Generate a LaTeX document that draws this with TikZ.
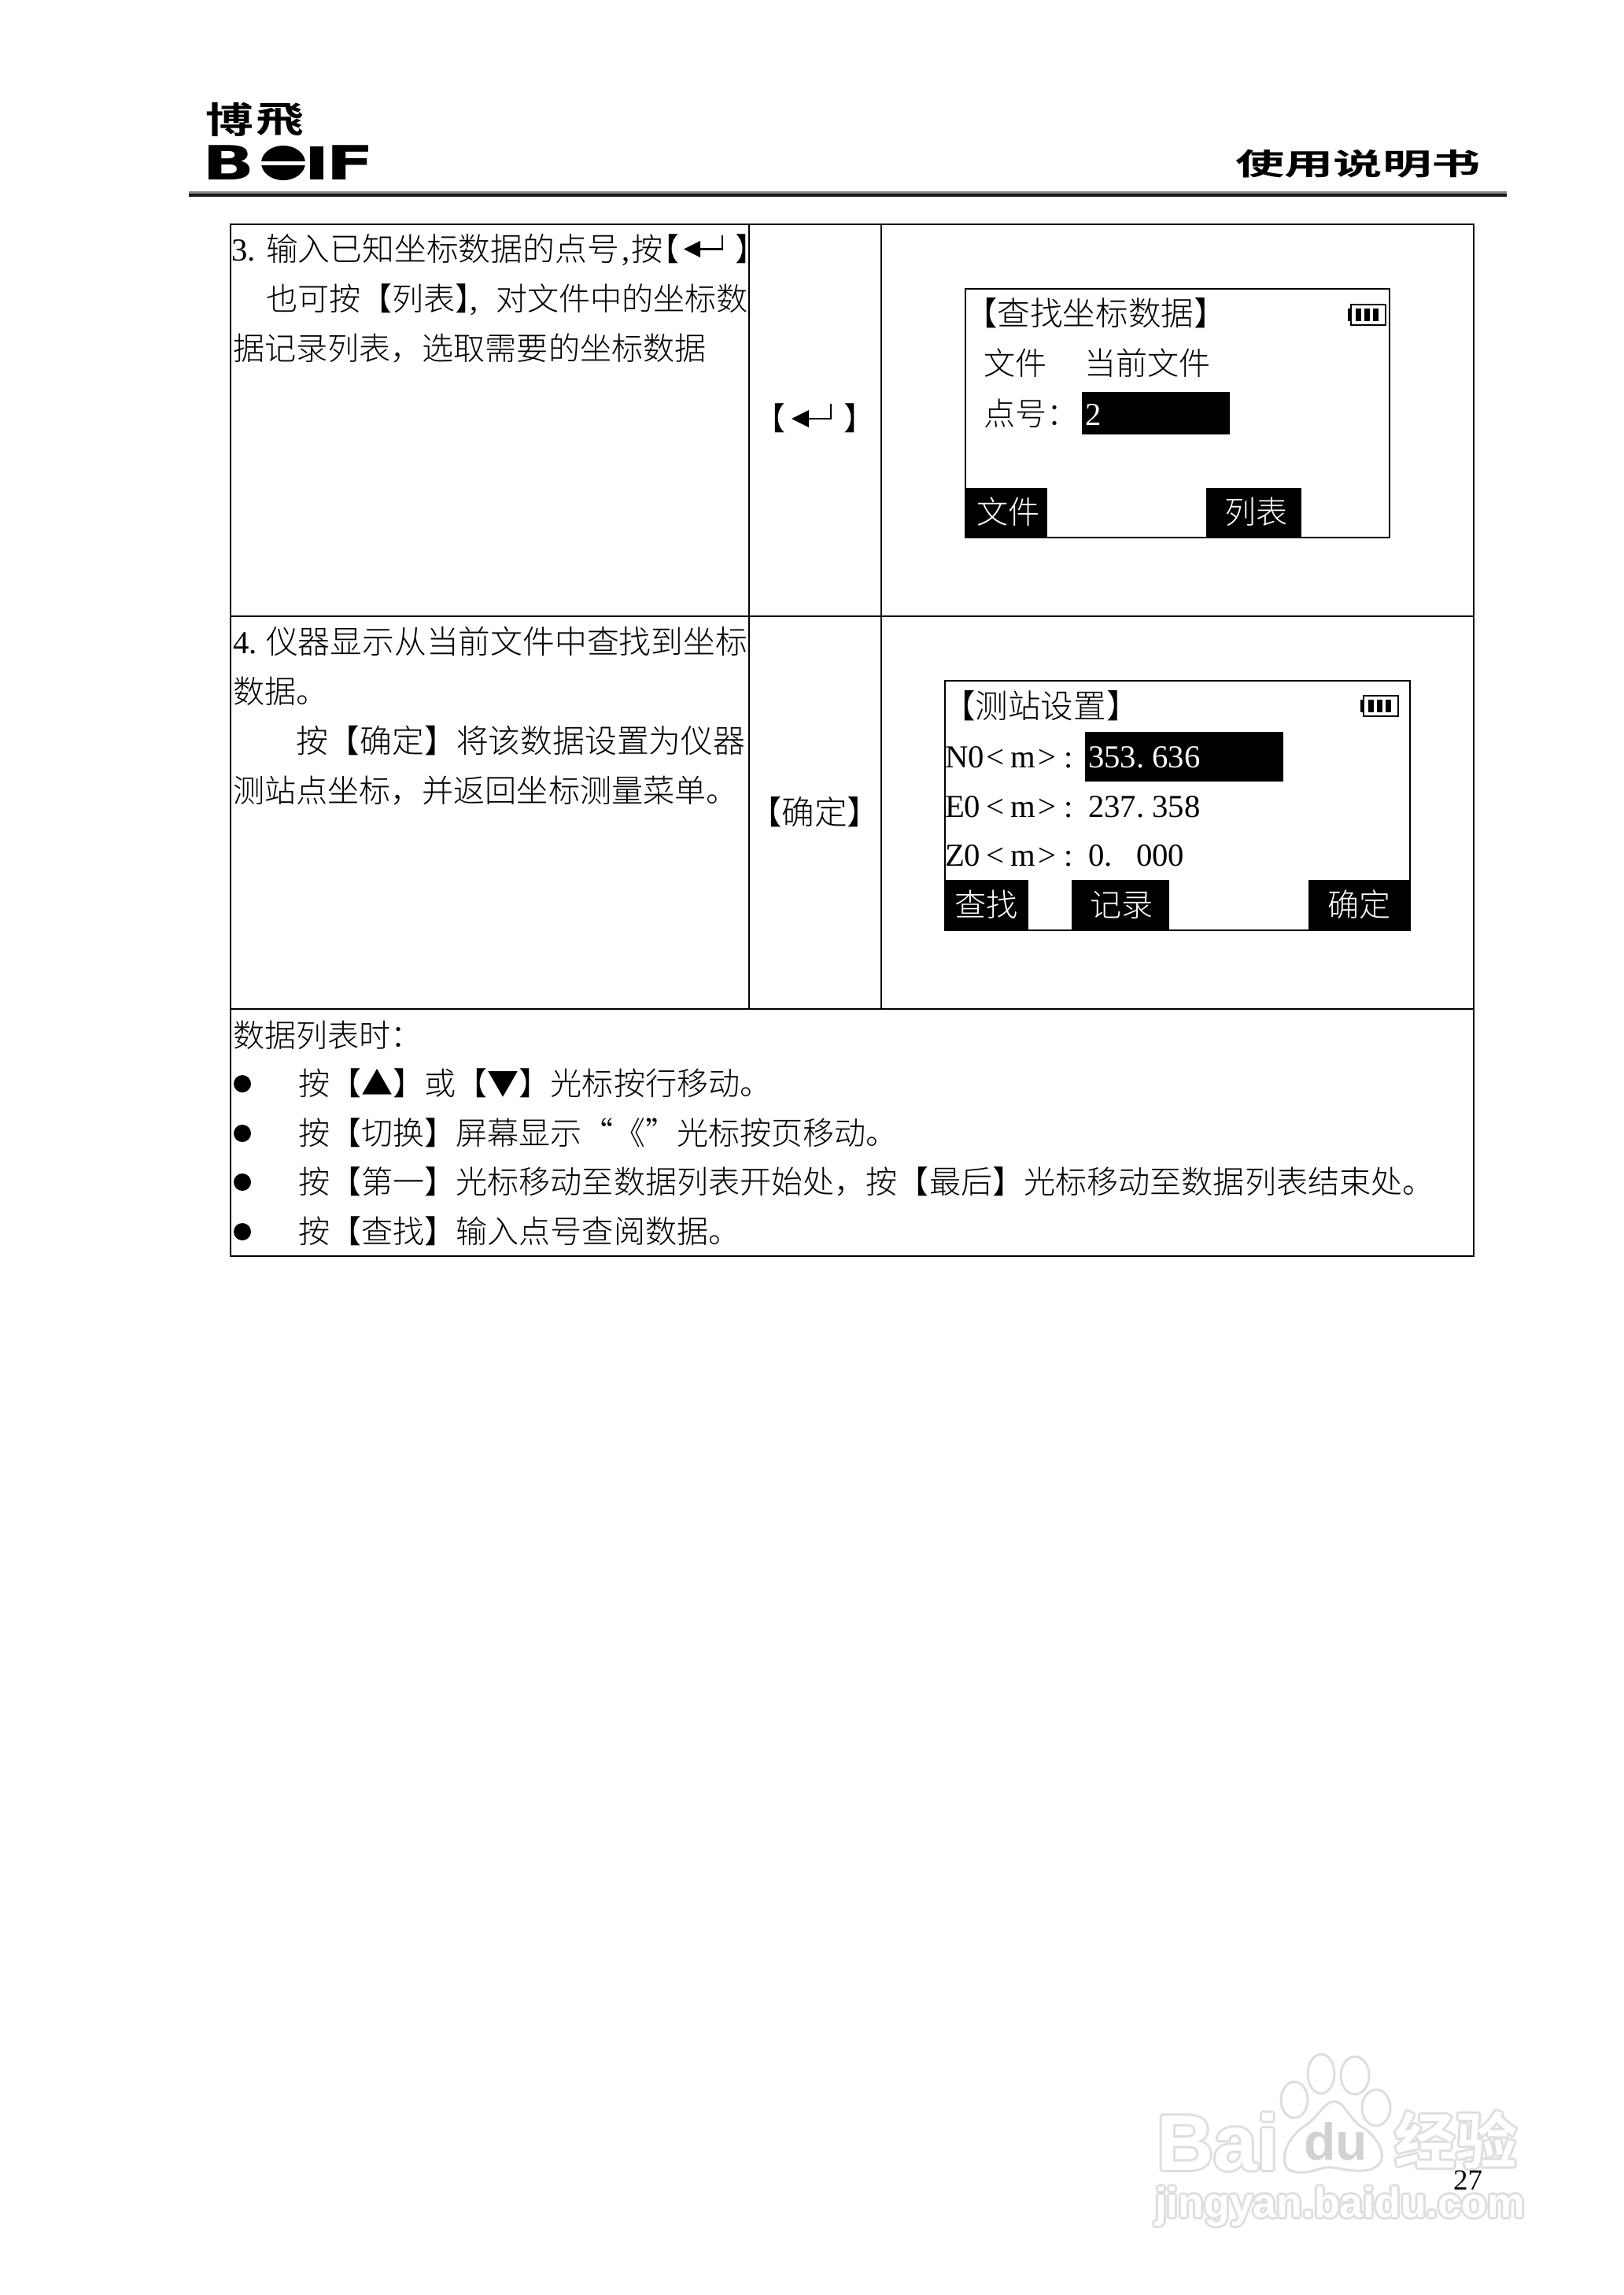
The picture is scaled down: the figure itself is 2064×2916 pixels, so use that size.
\documentclass[tikz,border=0pt]{standalone}
\usepackage{fontspec}
\newfontfamily\cjk{Noto Sans CJK SC Light}
\newfontfamily\cjkb{Noto Sans CJK SC Bold}
\newfontfamily\la{Liberation Serif}
\newfontfamily\lsb{Liberation Sans Bold}
\newfontfamily\djb{DejaVu Sans Bold}
\newcommand\dw{\makebox[20.35pt][l]{.}}
\tikzset{
  x=1pt,y=-1pt,
  tx/.style={inner sep=0pt,outer sep=0pt,anchor=base west,font=\cjk\fontsize{40.1}{48}\selectfont},
  txm/.style={tx,font=\cjk\fontsize{40.8}{48}\selectfont},
  txl/.style={tx,font=\cjk\fontsize{41.6}{48}\selectfont},
  ltx/.style={inner sep=0pt,outer sep=0pt,anchor=base west,font=\la\fontsize{40.7}{48}\selectfont},
  inv/.style={text=white},
  grid/.style={line width=1.8pt,black},
  screen/.style={line width=2pt,black},
  bullet/.style={circle,fill=black,minimum size=22pt,inner sep=0pt},
  wm/.style={inner sep=0pt,outer sep=0pt,anchor=base west},
}
\newcommand\wmark[4]{%
  \foreach \dx/\dy in {-3/0,3/0,0/-3,0/3,-2/-2,2/2,-2/2,2/-2}
    \node[wm,text=black!13,font=#3] at ({#1+\dx},{#2+\dy}) {#4};
  \node[wm,text=white,font=#3] at (#1,#2) {#4};
}
\newcommand\batt[2]{%
  \begin{scope}[shift={(#1,#2)}]
    \draw[line width=2pt] (4,0) rectangle (48,26);
    \fill (0,5) rectangle (5,21);
    \fill (10,5) rectangle (17,21);
    \fill (21,5) rectangle (28,21);
    \fill (32,5) rectangle (39,21);
  \end{scope}%
}
\begin{document}
\begin{tikzpicture}
\useasboundingbox (0,0) rectangle (2064,2916);
\fill[white] (0,0) rectangle (2064,2916);

% watermark
\wmark{1470}{2757}{\lsb\fontsize{100}{110}\selectfont}{Bai}
\foreach \cx/\cy/\rx/\ry in {1645/2668/17/23,1679/2635/17/25,1722/2637/18/24,1749/2678/18/23}
  \draw[black!13,line width=3pt,fill=white] (\cx,\cy) ellipse [x radius=\rx,y radius=\ry];
\draw[black!13,line width=3pt,fill=white] (1638,2757) .. controls (1625,2745) and (1635,2715) .. (1660,2700)
  .. controls (1675,2690) and (1685,2668) .. (1697,2670)
  .. controls (1710,2672) and (1715,2695) .. (1735,2705)
  .. controls (1760,2725) and (1765,2750) .. (1740,2757)
  .. controls (1715,2762) and (1695,2750) .. (1680,2755)
  .. controls (1665,2760) and (1650,2763) .. (1638,2757) -- cycle;
\node[wm,text=black!18,font=\lsb\fontsize{66}{70}\selectfont] (wmdu) at (1657,2744) {du};
\wmark{1772}{2749}{\cjkb\fontsize{78}{84}\selectfont}{经验}
\wmark{1468}{2817}{\lsb\fontsize{53.5}{60}\selectfont}{jingyan.baidu.com}

% header
\node[inner sep=0,font=\cjkb\fontsize{46}{50}\selectfont,xscale=1.32,transform shape,anchor=center] (lg1) at (292,152) {博};
\node[inner sep=0,font=\cjkb\fontsize{46}{50}\selectfont,xscale=1.32,transform shape,anchor=center] (lg2) at (356,152) {飛};
\node[inner sep=0,font=\djb\fontsize{60}{60}\selectfont,xscale=1.45,transform shape,anchor=center] (lgB) at (291,207) {B};
\fill (360,207) ellipse [x radius=28,y radius=22];
\fill[white] (328,204.5) rectangle (392,209.5);
\fill (394,186) rectangle (411,228);
\node[inner sep=0,font=\djb\fontsize{60}{60}\selectfont,xscale=1.5,transform shape,anchor=center] (lgF) at (445,207) {F};
\node[inner sep=0,font=\cjkb\fontsize{38}{40}\selectfont,xscale=1.64,transform shape,anchor=center] (hd) at (1726,208) {使用说明书};
\fill[black!45] (240,243) rectangle (1915,245.5);
\fill[black!90] (240,245.5) rectangle (1915,249.5);

% table
\draw[grid] (293,285) rectangle (1873,1596);
\draw[grid] (293,783) -- (1873,783);
\draw[grid] (293,1282) -- (1873,1282);
\draw[grid] (952,285) -- (952,1282);
\draw[grid] (1120,285) -- (1120,1282);

% row 1 left
\node[ltx] (a1) at (294,331) {3.};
\node[txm] (a2) at (338,331) {输入已知坐标数据的点号};
\node[ltx] (a3) at (790,331) {,};
\node[tx] (a4) at (802,331) {按};
\node[tx] (a5) at (823,331) {【};
\fill (869,316.5) -- (890,306) -- (890,327) -- cycle;
\draw[line width=2.5pt] (888,316.5) -- (918,316.5) -- (918,299);
\node[tx] (a6) at (934,331) {】};
\node[tx] (b1) at (338,394) {也可按【列表】};
\node[ltx] (b2) at (597,394) {,};
\node[tx] (b3) at (630,394) {对文件中的坐标数};
\node[tx] (c1) at (296,457) {据记录列表，选取需要的坐标数据};

% row 1 mid
\node[tx] (m1) at (958,546) {【};
\fill (1006,532) -- (1028,521) -- (1028,543) -- cycle;
\draw[line width=2.5pt] (1026,532) -- (1056,532) -- (1056,513);
\node[tx] (m2) at (1072,546) {】};

% screen 1
\draw[screen] (1227,367) rectangle (1766,683);
\batt{1713}{387}
\node[txl] (s1) at (1226,413) {【查找坐标数据】};
\node[tx] (s2) at (1250,476) {文件};
\node[tx] (s3) at (1378,476) {当前文件};
\node[tx] (s4) at (1250,540) {点号：};
\fill (1375,498) rectangle (1563,552);
\node[ltx,inv] (s5) at (1379,540) {2};
\fill (1227,620) rectangle (1331,683);
\fill (1533,620) rectangle (1654,683);
\node[tx,inv] (s6) at (1241,665) {文件};
\node[tx,inv] (s7) at (1556,665) {列表};

% row 2 left
\node[ltx] (d1) at (296,830) {4.};
\node[txm] (d2) at (338,830) {仪器显示从当前文件中查找到坐标};
\node[tx] (e1) at (296,893) {数据。};
\node[txm] (f1) at (376,956) {按【确定】将该数据设置为仪器};
\node[tx] (g1) at (296,1019) {测站点坐标，并返回坐标测量菜单。};
\node[txl] (m3) at (952,1047) {【确定】};

% screen 2
\draw[screen] (1201,865) rectangle (1792,1182);
\batt{1729}{884}
\node[txl] (t1) at (1198,912) {【测站设置】};
\fill (1379,930) rectangle (1631,993);
\foreach \n/\yy/\lab in {n/975/N0,e/1038/E0,z/1100/Z0}{
  \node[ltx] (\n l) at (1201,\yy) {\lab};
  \node[ltx] (\n a) at (1253,\yy) {<};
  \node[ltx] (\n b) at (1284,\yy) {m};
  \node[ltx] (\n c) at (1319,\yy) {>};
  \node[ltx] (\n d) at (1352,\yy) {:};
}
\node[ltx,inv] (nv) at (1383,975) {353\dw 636};
\node[ltx] (ev) at (1383,1038) {237\dw 358};
\node[ltx] (zv) at (1383,1100) {0\dw\hspace{20.35pt}000};
\fill (1201,1118) rectangle (1307,1182);
\fill (1362,1118) rectangle (1486,1182);
\fill (1663,1118) rectangle (1792,1182);
\node[tx,inv] (k1) at (1213,1164) {查找};
\node[tx,inv] (k2) at (1385,1164) {记录};
\node[tx,inv] (k3) at (1687,1164) {确定};

% row 3
\node[tx] (h0) at (296,1330) {数据列表时：};
\foreach \i/\yy in {1/1377,2/1440,3/1502,4/1565}
  \node[bullet] (bl\i) at (308,\yy) {};
\node[tx] (h1) at (379,1391) {按【▲】或【▼】光标按行移动。};
\node[tx] (h2) at (379,1454) {按【切换】屏幕显示“《”光标按页移动。};
\node[tx] (h3) at (379,1516) {按【第一】光标移动至数据列表开始处，按【最后】光标移动至数据列表结束处。};
\node[tx] (h4) at (379,1579) {按【查找】输入点号查阅数据。};

% page number
\node[wm,font=\la\fontsize{37}{40}\selectfont] (pg) at (1847,2782) {27};
\end{tikzpicture}
\end{document}
